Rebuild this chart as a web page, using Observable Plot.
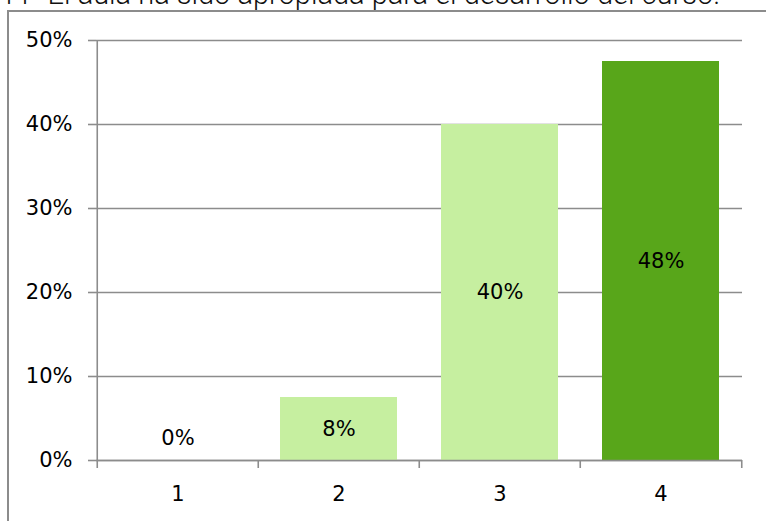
<!DOCTYPE html>
<html>
<head>
<meta charset="utf-8">
<script src="https://cdn.jsdelivr.net/npm/d3@7"></script>
<script src="https://cdn.jsdelivr.net/npm/@observablehq/plot@0.6"></script>
<style>
  html, body { margin: 0; padding: 0; background: #fff; overflow: hidden; }
  #wrap { position: relative; width: 766px; height: 521px; overflow: hidden; }
  #title { position: absolute; left: 0; top: -20px; white-space: nowrap;
           font-family: Roboto, "Liberation Sans", sans-serif; font-weight: 300;
           font-size: 29px; line-height: 29px; color: #111; }
  #box { position: absolute; left: 7px; top: 10px; width: 780px; height: 600px;
         border: 2px solid #8c8c8c; box-sizing: border-box; }
  #chart { position: absolute; left: 0; top: 0; }
</style>
</head>
<body>
<div id="wrap">
  <div id="title">11- El aula ha sido apropiada para el desarrollo del curso.</div>
  <div id="box"></div>
  <div id="chart"></div>
</div>
<script>
const categories = ["1", "2", "3", "4"];
const values = [0, 0.075, 0.40, 0.475];
const labels = ["0%", "8%", "40%", "48%"];
const colors = ["#c6efa0", "#c6efa0", "#c6efa0", "#58a61a"];
const yTicks = [0, 0.1, 0.2, 0.3, 0.4, 0.5];

const data = categories.map((c, i) => ({cat: c, v: values[i], label: labels[i], color: colors[i]}));

const W = 766, H = 521;
const mL = 96, mR = 24;
const step = (W - mL - mR) / categories.length;
const grey = "#8c8c8c";
const font = "DejaVu Sans, sans-serif";
const fs = 21;

const chart = Plot.plot({
  width: W,
  height: H,
  marginLeft: mL,
  marginRight: mR,
  marginTop: 40,
  marginBottom: 61,
  style: {fontFamily: font, fontSize: fs + "px", color: "#000", background: "transparent", overflow: "visible"},
  x: {domain: categories, paddingInner: 0.275, paddingOuter: 0.1375, label: null},
  y: {domain: [0, 0.5], label: null},
  marks: [
    Plot.gridY(yTicks, {stroke: grey, strokeOpacity: 1, strokeWidth: 1.6}),
    Plot.barY(data, {x: "cat", y: "v", fill: "color"}),
    Plot.text(data, {x: "cat", y: d => Math.max(d.v / 2, 0.027), text: "label", fill: "#000", fontSize: fs}),
    // vertical y-axis line
    Plot.ruleX([categories[0]], {x: d => d, y1: 0, y2: 0.5, dx: -step / 2, stroke: grey, strokeWidth: 1.6}),
    // horizontal x-axis line
    Plot.ruleY([0], {stroke: grey, strokeWidth: 1.6}),
    // category boundary ticks
    Plot.ruleX(categories, {x: d => d, y1: 0, y2: -8 / 840, dx: -step / 2, stroke: grey, strokeWidth: 1.6}),
    Plot.ruleX([categories[categories.length - 1]], {x: d => d, y1: 0, y2: -8 / 840, dx: step / 2, stroke: grey, strokeWidth: 1.6}),
    Plot.axisY(yTicks, {tickFormat: d3.format(".0%"), tickSize: 8, tickPadding: 16, stroke: grey, strokeWidth: 1.6, strokeOpacity: 1, fill: "#000", fontSize: fs, label: null}),
    Plot.axisX({tickSize: 0, tickPadding: 26, fill: "#000", fontSize: fs, label: null})
  ]
});
document.getElementById("chart").appendChild(chart);
</script>
</body>
</html>
